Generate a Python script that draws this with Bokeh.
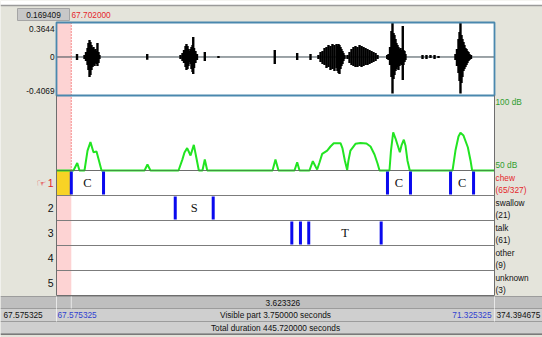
from bokeh.plotting import figure
from bokeh.models import Range1d
from bokeh.core.properties import value
from bokeh.embed import file_html
from bokeh.resources import INLINE

W, H = 542, 337

# ---------------------------------------------------------------- times (s)
view_start = 67.575325
view_end = 71.325325
cursor = 67.702000

top_box_text = "0.169409"
cursor_text = "67.702000"
cursor_to_end_text = "3.623326"
visible_text = "Visible part 3.750000 seconds"
total_text = "Total duration 445.720000 seconds"
left_time_text = "67.575325"
win_start_text = "67.575325"
win_end_text = "71.325325"
right_time_text = "374.394675"

# ---------------------------------------------------------------- waveform
amp_max, amp_min = 0.3644, -0.4069
amp_tick_values = [0.3644, 0.0, -0.4069]
amp_tick_labels = ["0.3644", "0", "-0.4069"]

wave_t = [67.751,
          67.815, 67.828, 67.841, 67.849, 67.858, 67.866, 67.875, 67.884, 67.892,
          67.901, 67.909, 67.918, 67.926, 67.935, 67.943,
          68.352,
          68.637, 68.654, 68.667, 68.680, 68.688, 68.697, 68.705, 68.714, 68.723,
          68.731, 68.740, 68.746, 68.753, 68.765, 68.778,
          68.845, 68.962, 69.444, 69.636, 69.750,
          69.818, 69.836, 69.853, 69.870, 69.887, 69.904, 69.921, 69.938, 69.955,
          69.973, 69.981, 69.990, 69.998, 70.007, 70.015, 70.024, 70.032, 70.041,
          70.067, 70.084, 70.101, 70.118, 70.135, 70.152, 70.170, 70.187, 70.204,
          70.221, 70.238, 70.255, 70.272, 70.289, 70.307, 70.324,
          70.407,
          70.418, 70.431, 70.443, 70.452, 70.461, 70.469, 70.478, 70.486, 70.495,
          70.503, 70.512, 70.521, 70.529, 70.540, 70.546, 70.555, 70.563,
          70.709, 70.743, 70.777, 70.812, 70.846,
          70.991, 71.004, 71.017, 71.026, 71.034, 71.043, 71.051, 71.060, 71.068,
          71.077, 71.086, 71.094, 71.103, 71.111, 71.124]
wave_hi = [0.032,
           0.021, 0.053, 0.095, 0.148, 0.180, 0.159, 0.127, 0.095, 0.106,
           0.074, 0.085, 0.063, 0.148, 0.053, 0.021,
           0.032,
           0.021, 0.042, 0.074, 0.116, 0.137, 0.116, 0.085, 0.063, 0.085,
           0.106, 0.127, 0.211, 0.095, 0.063, 0.032,
           0.053, 0.011, 0.074, 0.042, 0.032,
           0.021, 0.053, 0.063, 0.095, 0.106, 0.127, 0.116, 0.137, 0.127,
           0.137, 0.116, 0.137, 0.127, 0.106, 0.085, 0.063, 0.042, 0.021,
           0.021, 0.053, 0.085, 0.106, 0.116, 0.106, 0.127, 0.116, 0.106,
           0.095, 0.085, 0.074, 0.063, 0.053, 0.042, 0.021,
           0.021,
           0.032, 0.106, 0.275, 0.364, 0.254, 0.233, 0.190, 0.148, 0.127,
           0.106, 0.085, 0.095, 0.074, 0.328, 0.074, 0.063, 0.032,
           0.021, 0.021, 0.021, 0.021, 0.011,
           0.032, 0.085, 0.190, 0.264, 0.364, 0.233, 0.190, 0.159, 0.127,
           0.095, 0.085, 0.063, 0.053, 0.032, 0.021]
wave_lo = [-0.032,
           -0.021, -0.042, -0.085, -0.137, -0.211, -0.190, -0.137, -0.106, -0.085,
           -0.095, -0.063, -0.074, -0.095, -0.063, -0.021,
           -0.030,
           -0.021, -0.042, -0.063, -0.106, -0.137, -0.127, -0.095, -0.053, -0.074,
           -0.127, -0.159, -0.180, -0.116, -0.063, -0.032,
           -0.042, -0.011, -0.074, -0.032, -0.032,
           -0.021, -0.053, -0.074, -0.085, -0.116, -0.106, -0.137, -0.127, -0.148,
           -0.116, -0.148, -0.169, -0.180, -0.127, -0.095, -0.074, -0.042, -0.021,
           -0.021, -0.063, -0.085, -0.095, -0.106, -0.106, -0.095, -0.106, -0.095,
           -0.085, -0.085, -0.074, -0.063, -0.053, -0.042, -0.021,
           -0.021,
           -0.032, -0.085, -0.211, -0.386, -0.233, -0.190, -0.148, -0.127, -0.106,
           -0.137, -0.095, -0.074, -0.085, -0.243, -0.085, -0.053, -0.032,
           -0.021, -0.021, -0.011, -0.021, -0.011,
           -0.032, -0.095, -0.169, -0.254, -0.386, -0.275, -0.211, -0.148, -0.127,
           -0.106, -0.085, -0.063, -0.042, -0.032, -0.021]

# ---------------------------------------------------------------- intensity (dB)
db_top, db_bottom = 100, 50
int_t = [67.575, 67.721, 67.753, 67.772, 67.815, 67.841, 67.866, 67.892, 67.918,
         67.943, 67.961, 68.329, 68.354, 68.380, 68.620, 68.652, 68.671, 68.694,
         68.723, 68.751, 68.774, 68.794, 68.825, 68.845, 68.866, 69.425, 69.450,
         69.476, 69.613, 69.636, 69.656, 69.741, 69.770, 69.793, 69.807, 69.827,
         69.850, 69.893, 69.921, 69.949, 70.007, 70.024, 70.044, 70.064, 70.075,
         70.092, 70.135, 70.178, 70.229, 70.264, 70.298, 70.324, 70.341, 70.426,
         70.439, 70.458, 70.478, 70.515, 70.529, 70.549, 70.563, 70.580, 70.600,
         70.966, 70.991, 71.017, 71.034, 71.060, 71.097, 71.120, 71.134, 71.325]
int_db = [50, 50, 55.0, 50, 50, 63.3, 68.9, 62.2, 62.7,
          55.3, 50, 50, 54.0, 50, 50, 57.1, 62.0, 64.9,
          60.0, 67.1, 58.0, 50, 50, 57.3, 50, 50, 57.3,
          50, 50, 55.5, 50, 50, 56.2, 52.7, 50.7, 55.3,
          61.1, 63.3, 66.0, 68.2, 68.2, 64.7, 56.7, 50.3, 56.7,
          63.3, 67.8, 68.3, 68.0, 66.0, 60.7, 54.7, 50, 50,
          63.3, 75.5, 71.3, 62.2, 66.7, 70.5, 66.7, 56.7, 50,
          50, 63.3, 72.7, 75.1, 73.3, 65.5, 56.7, 50, 50]

# ---------------------------------------------------------------- tiers
tier_names = ["chew", "swallow", "talk", "other", "unknown"]
tier_counts = ["(65/327)", "(21)", "(61)", "(9)", "(3)"]
tier_numbers = ["1", "2", "3", "4", "5"]
selected_tier = 0

tier_bounds = [
    [67.702, 67.978, 70.409, 70.606, 70.949, 71.146],
    [68.592, 68.917],
    [69.590, 69.664, 69.735, 70.355],
    [],
    [],
]
label_tier = [0, 0, 0, 1, 2]
label_start = [67.702, 70.409, 70.949, 68.592, 69.735]
label_end = [67.978, 70.606, 71.146, 68.917, 70.355]
label_text = ["C", "C", "C", "S", "T"]

# ---------------------------------------------------------------- layout (px)
BEIGE = "#E4E4DB"
RED = "#E4262B"
BLUE_TXT = "#2F3FD0"
GREEN_TXT = "#2F9E2F"
SANS = value("Liberation Sans")
SERIF = value("Liberation Serif")

LEFT, RIGHT = 56, 494
WAVE_TOP, WAVE_BOT = 22, 95
TIER_TOP, TIER_H = 170, 25
N_TIERS = len(tier_names)
TIER_BOT = TIER_TOP + N_TIERS * TIER_H
ROWS = [296, 308, 321, 333]

sec_per_px = (view_end - view_start) / (RIGHT - LEFT)
x_start = view_start - LEFT * sec_per_px
x_end = view_end + (W - RIGHT) * sec_per_px

amp_per_px = (amp_max - amp_min) / (WAVE_BOT - WAVE_TOP)
wave_range = Range1d(amp_min - (H - WAVE_BOT) * amp_per_px, amp_max + WAVE_TOP * amp_per_px)
db_per_px = (db_top - db_bottom) / (TIER_TOP - WAVE_BOT)
db_range = Range1d(db_bottom - (H - TIER_TOP) * db_per_px, db_top + WAVE_BOT * db_per_px)

p = figure(width=W, height=H, output_backend="svg", toolbar_location=None,
           x_range=Range1d(x_start, x_end), y_range=Range1d(H, 0),
           x_axis_type=None, y_axis_type=None, min_border=0,
           background_fill_color=BEIGE, border_fill_color=BEIGE,
           outline_line_color=None)
p.extra_x_ranges = {"px": Range1d(0, W)}
p.extra_y_ranges = {"wave": wave_range, "db": db_range}


def txt(x, y, s, color="#111111", size="8.3px", align="left", font=SANS, style="normal"):
    p.text(x=[x], y=[y], text=[s], x_range_name="px", text_color=color,
           text_font=font, text_font_size=size, text_align=align,
           text_baseline="middle", text_font_style=style)


# top bar
p.quad(left=[0], right=[W], top=[0], bottom=[5], x_range_name="px",
       fill_color="white", line_color=None)
p.segment(x0=[0], y0=[5], x1=[W], y1=[5], x_range_name="px", line_color="#9A9A9A", line_width=1.5)
p.quad(left=[17], right=[69], top=[8], bottom=[20], x_range_name="px",
       fill_color="#C8C8C8", line_color="#A5A5A5")
txt(43, 14, top_box_text, align="center")
txt(71, 14, cursor_text, color=RED)

# drawing area
p.quad(left=[view_start], right=[view_end], top=[WAVE_TOP], bottom=[TIER_BOT],
       fill_color="white", line_color=None)
p.quad(left=[view_start], right=[cursor], top=[WAVE_TOP], bottom=[TIER_BOT],
       fill_color="#FDD3D3", line_color=None)
p.quad(left=[view_start], right=[cursor],
       top=[TIER_TOP + selected_tier * TIER_H], bottom=[TIER_TOP + (selected_tier + 1) * TIER_H],
       fill_color="#F8D325", line_color=None)

# tier separators
for i in range(1, N_TIERS):
    yy = TIER_TOP + i * TIER_H
    p.segment(x0=[view_start], y0=[yy], x1=[view_end], y1=[yy], line_color="#7C7C7C", line_width=1)
p.segment(x0=[view_start], y0=[TIER_TOP], x1=[view_end], y1=[TIER_TOP], line_color="#8A8A8A", line_width=1)

# waveform
p.segment(x0=[view_start], y0=[0], x1=[view_end], y1=[0], y_range_name="wave",
          line_color="#3A4850", line_width=1)
p.segment(x0=wave_t, y0=wave_lo, x1=wave_t, y1=wave_hi, y_range_name="wave",
          line_color="black", line_width=2.4)

# intensity curve
p.line(int_t, int_db, y_range_name="db", line_color="#22E422", line_width=2)
p.segment(x0=[view_start], y0=[TIER_TOP], x1=[view_end], y1=[TIER_TOP],
          line_color="#555555", line_width=1, line_alpha=0.55)

# interval boundaries and labels
for i, bounds in enumerate(tier_bounds):
    if bounds:
        top = TIER_TOP + i * TIER_H
        p.segment(x0=bounds, y0=[top + 1] * len(bounds), x1=bounds,
                  y1=[top + TIER_H - 1] * len(bounds), line_color="#0A0AEE", line_width=3)
lab_x = [(a + b) / 2 for a, b in zip(label_start, label_end)]
lab_y = [TIER_TOP + t * TIER_H + TIER_H / 2 for t in label_tier]
p.text(x=lab_x, y=lab_y, text=label_text, text_font=SERIF, text_font_size="12.5px",
       text_color="#111111", text_align="center", text_baseline="middle")

# cursor
p.segment(x0=[cursor], y0=[WAVE_TOP], x1=[cursor], y1=[TIER_TOP], line_color="#EE3333",
          line_width=1, line_dash="1 2")

# frames
p.quad(left=[view_start], right=[view_end], top=[WAVE_TOP], bottom=[WAVE_BOT],
       fill_color=None, line_color="#4A88AE", line_width=1.8)
p.segment(x0=[view_start, view_end], y0=[WAVE_BOT, WAVE_BOT], x1=[view_start, view_end],
          y1=[TIER_BOT, TIER_BOT], line_color="#6E6E6E", line_width=1)
p.segment(x0=[view_start], y0=[TIER_BOT], x1=[view_end], y1=[TIER_BOT], line_color="#6E6E6E", line_width=1)

# amplitude labels
amp_px = [WAVE_TOP + (amp_max - v) / amp_per_px for v in amp_tick_values]
amp_px[0] += 6
amp_px[-1] -= 5
for v, s in zip(amp_px, amp_tick_labels):
    txt(LEFT - 2, v, s, align="right")

# dB labels
txt(RIGHT + 1, WAVE_BOT + 6, "%d dB" % db_top, color=GREEN_TXT)
txt(RIGHT + 1, TIER_TOP - 6, "%d dB" % db_bottom, color=GREEN_TXT)

# tier names / numbers
for i in range(N_TIERS):
    top = TIER_TOP + i * TIER_H
    col = RED if i == selected_tier else "#111111"
    txt(RIGHT + 1, top + 7, tier_names[i], color=col)
    txt(RIGHT + 1, top + 19, tier_counts[i], color=col)
    txt(LEFT - 3, top + TIER_H / 2, tier_numbers[i], color=col, size="10.5px", align="right")
txt(41, TIER_TOP + TIER_H / 2, "\u261e", color=RED, size="11px", align="center",
    font=value("DejaVu Sans"))

# bottom rows
p.quad(left=[0], right=[W], top=[ROWS[0]], bottom=[ROWS[1]], x_range_name="px",
       fill_color="#BFBFBF", line_color=None)
p.quad(left=[0, 0], right=[W, W], top=[ROWS[1], ROWS[2]], bottom=[ROWS[2], ROWS[3]],
       x_range_name="px", fill_color="#CFCFCF", line_color=None)
for r in ROWS:
    p.segment(x0=[0], y0=[r], x1=[W], y1=[r], x_range_name="px", line_color="#9C9C9C", line_width=1)
p.segment(x0=[0], y0=[ROWS[3] + 1], x1=[W], y1=[ROWS[3] + 1], x_range_name="px",
          line_color="#7A7A7A", line_width=1)
p.segment(x0=[view_start, cursor, view_end], y0=[ROWS[0]] * 3, x1=[view_start, cursor, view_end],
          y1=[ROWS[1]] * 3, line_color="#E8E8E8", line_width=1)
p.segment(x0=[view_start, view_end], y0=[ROWS[1]] * 2, x1=[view_start, view_end],
          y1=[ROWS[2]] * 2, line_color="#EDEDED", line_width=1)

mid_row = lambda k: (ROWS[k] + ROWS[k + 1]) / 2
cursor_px = LEFT + (cursor - view_start) / sec_per_px
txt((cursor_px + RIGHT) / 2, mid_row(0), cursor_to_end_text, align="center")
txt(3, mid_row(1), left_time_text)
txt(LEFT + 1, mid_row(1), win_start_text, color=BLUE_TXT)
txt((LEFT + RIGHT) / 2, mid_row(1), visible_text, align="center")
txt(RIGHT - 3, mid_row(1), win_end_text, color=BLUE_TXT, align="right")
txt(RIGHT + 2, mid_row(1), right_time_text)
txt((LEFT + RIGHT) / 2, mid_row(2), total_text, align="center")

open("out.html", "w").write(file_html(p, INLINE))
